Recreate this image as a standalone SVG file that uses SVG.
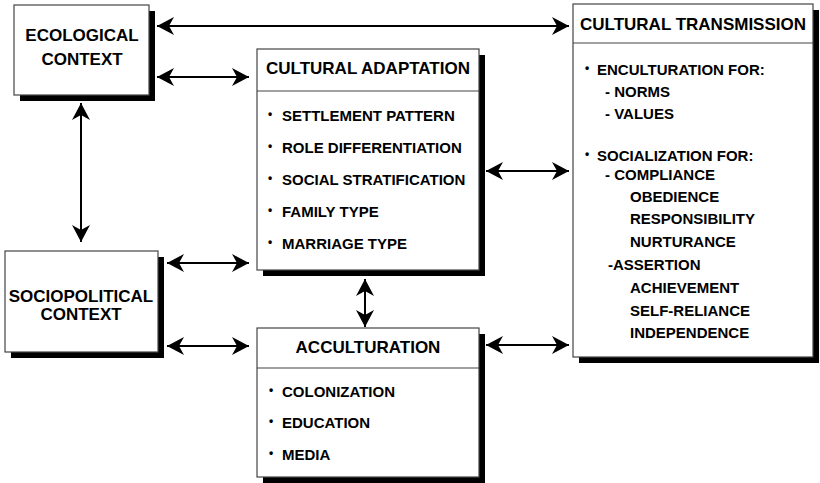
<svg xmlns="http://www.w3.org/2000/svg" width="820" height="483" viewBox="0 0 820 483">
  <style>
    .box { fill: #ffffff; stroke: #444444; stroke-width: 1.2; }
    .shadow { fill: #000000; }
    .div { stroke: #444444; stroke-width: 1.2; }
    .title { font-family: "Liberation Sans", Arial, sans-serif; font-weight: bold; font-size: 17px; fill: #000; text-anchor: middle; }
    .item { font-family: "Liberation Sans", Arial, sans-serif; font-weight: bold; font-size: 15px; fill: #000; }
    .dot { font-size: 12px; }
    .link { stroke: #000; stroke-width: 2; fill: none; marker-start: url(#head); marker-end: url(#head); }
  </style>
  <defs>
    <marker id="head" markerUnits="userSpaceOnUse" markerWidth="20" markerHeight="20" viewBox="-18 -10 20 20" refX="0" refY="0" orient="auto-start-reverse">
      <path d="M0,0 L-17,-9 L-12,0 L-17,9 Z" fill="#000"/>
    </marker>
  </defs>

  <!-- connectors -->
  <g id="connectors">
    <line class="link" x1="157" y1="26" x2="569" y2="26"/>
    <line class="link" x1="157" y1="77" x2="249" y2="77"/>
    <line class="link" x1="81" y1="103" x2="81" y2="242"/>
    <line class="link" x1="167" y1="263" x2="249" y2="263"/>
    <line class="link" x1="167" y1="346" x2="249" y2="346"/>
    <line class="link" x1="365" y1="279" x2="365" y2="327"/>
    <line class="link" x1="486" y1="171" x2="569" y2="171"/>
    <line class="link" x1="486" y1="345" x2="569" y2="345"/>
  </g>

  <!-- ecological context -->
  <g id="ecological">
    <rect class="shadow" x="20" y="11" width="135" height="90"/>
    <rect class="box" x="14" y="5" width="135" height="90"/>
    <text class="title" x="82" y="41">ECOLOGICAL</text>
    <text class="title" x="82" y="65">CONTEXT</text>
  </g>

  <!-- sociopolitical context -->
  <g id="sociopolitical">
    <rect class="shadow" x="11" y="257" width="153" height="101"/>
    <rect class="box" x="5" y="251" width="153" height="101"/>
    <text class="title" x="81" y="302">SOCIOPOLITICAL</text>
    <text class="title" x="81" y="320">CONTEXT</text>
  </g>

  <!-- cultural adaptation -->
  <g id="adaptation">
    <rect class="shadow" x="263" y="55" width="222" height="221"/>
    <rect class="box" x="257" y="49" width="222" height="221"/>
    <line class="div" x1="257" y1="91" x2="479" y2="91"/>
    <text class="title" x="368" y="74">CULTURAL ADAPTATION</text>
    <text class="item"><tspan class="dot" x="268" y="118">•</tspan><tspan x="282" y="121">SETTLEMENT PATTERN</tspan></text>
    <text class="item"><tspan class="dot" x="268" y="150">•</tspan><tspan x="282" y="153">ROLE DIFFERENTIATION</tspan></text>
    <text class="item"><tspan class="dot" x="268" y="182">•</tspan><tspan x="282" y="185">SOCIAL STRATIFICATION</tspan></text>
    <text class="item"><tspan class="dot" x="268" y="214">•</tspan><tspan x="282" y="217">FAMILY TYPE</tspan></text>
    <text class="item"><tspan class="dot" x="268" y="246">•</tspan><tspan x="282" y="249">MARRIAGE TYPE</tspan></text>
  </g>

  <!-- acculturation -->
  <g id="acculturation">
    <rect class="shadow" x="263" y="334" width="222" height="149"/>
    <rect class="box" x="257" y="328" width="222" height="149"/>
    <line class="div" x1="257" y1="368" x2="479" y2="368"/>
    <text class="title" x="368" y="353">ACCULTURATION</text>
    <text class="item"><tspan class="dot" x="269" y="394">•</tspan><tspan x="282" y="397">COLONIZATION</tspan></text>
    <text class="item"><tspan class="dot" x="269" y="425">•</tspan><tspan x="282" y="428">EDUCATION</tspan></text>
    <text class="item"><tspan class="dot" x="269" y="457">•</tspan><tspan x="282" y="460">MEDIA</tspan></text>
  </g>

  <!-- cultural transmission -->
  <g id="transmission">
    <rect class="shadow" x="579" y="10" width="240" height="353"/>
    <rect class="box" x="573" y="4" width="240" height="353"/>
    <line class="div" x1="573" y1="43" x2="813" y2="43"/>
    <text class="title" x="693" y="30">CULTURAL TRANSMISSION</text>
    <text class="item"><tspan class="dot" x="585" y="72">•</tspan><tspan x="597" y="75">ENCULTURATION FOR:</tspan></text>
    <text class="item" x="605" y="97">- NORMS</text>
    <text class="item" x="605" y="119">- VALUES</text>
    <text class="item"><tspan class="dot" x="585" y="158">•</tspan><tspan x="597" y="161">SOCIALIZATION FOR:</tspan></text>
    <text class="item" x="605" y="180">- COMPLIANCE</text>
    <text class="item" x="630" y="202">OBEDIENCE</text>
    <text class="item" x="630" y="224">RESPONSIBILITY</text>
    <text class="item" x="630" y="247">NURTURANCE</text>
    <text class="item" x="608" y="270">-ASSERTION</text>
    <text class="item" x="630" y="293">ACHIEVEMENT</text>
    <text class="item" x="630" y="316">SELF-RELIANCE</text>
    <text class="item" x="630" y="338">INDEPENDENCE</text>
  </g>
</svg>
